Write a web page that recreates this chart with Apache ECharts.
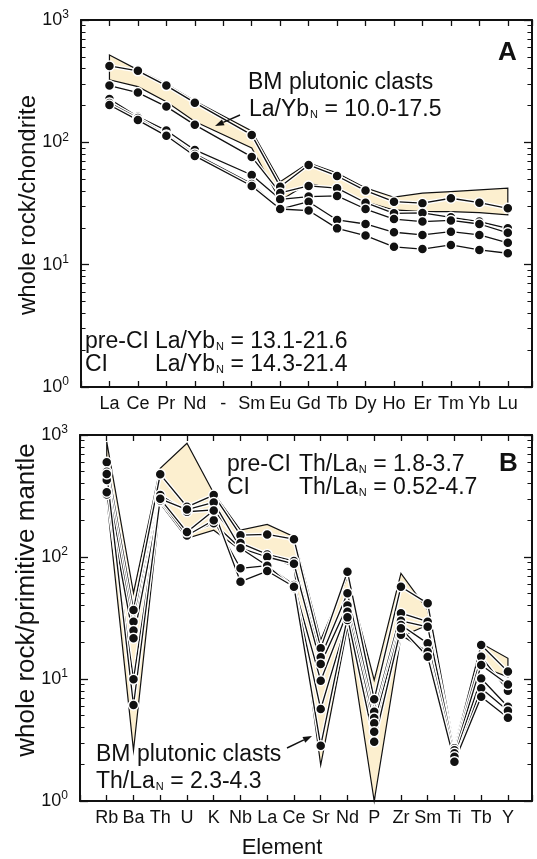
<!DOCTYPE html>
<html>
<head>
<meta charset="utf-8">
<script src="https://cdn.jsdelivr.net/npm/echarts@6/dist/echarts.min.js"></script>
<style>
  html, body { margin: 0; padding: 0; background: #fff; }
  #chart { width: 537px; height: 859px; }
</style>
</head>
<body>
<div id="chart"></div>
<script>
// ---- panel A: REE, normalised to chondrite ----
const catsA = ["La", "Ce", "Pr", "Nd", "-", "Sm", "Eu", "Gd", "Tb", "Dy", "Ho", "Er", "Tm", "Yb", "Lu"];
const elemsA = ["La", "Ce", "Pr", "Nd", "Sm", "Eu", "Gd", "Tb", "Dy", "Ho", "Er", "Tm", "Yb", "Lu"];
const bandHiA = [518, 391, 300, 218, 124, 47.7, 67.9, 56.2, 42.4, 35.6, 38.4, 39.5, 40.8, 42.2];
const bandLoA = [324, 285, 215, 148, 90, 33.5, 46.3, 40.8, 32.7, 28.0, 27.1, 27.1, 26.6, 25.5];
const rockA1 = [421, 384, 291, 211, 115, 43.4, 65.3, 53.1, 40.3, 32.7, 31.8, 34.9, 32.1, 28.9];
const rockA2 = [291, 255, 196, 139, 76, 38.6, 44.0, 42.2, 32.1, 26.3, 26.5, 24.4, 22.5, 19.8];
const rockA3 = [226, 162, 125, 86.7, 54.1, 34.2, 36.0, 36.5, 28.5, 23.6, 22.5, 23.0, 21.5, 18.2];
const rockA4 = [210, 158, 115, 80.4, 45.7, 28.5, 32.7, 23.2, 21.5, 18.4, 17.5, 18.6, 17.5, 15.1];
const rockA5 = [202, 152, 113, 77.4, 44.0, 28.5, 27.7, 19.8, 17.3, 14.0, 13.4, 14.5, 13.2, 12.4];

// ---- panel B: spider diagram, normalised to primitive mantle ----
const catsB = ["Rb", "Ba", "Th", "U", "K", "Nb", "La", "Ce", "Sr", "Nd", "P", "Zr", "Sm", "Ti", "Tb", "Y"];
const bandHiB = [877, 50.7, 533, 855, 333, 166, 185, 147, 20.9, 69, 9.8, 73.5, 36.8, 2.88, 19.6, 14.8];
const bandLoB = [305, 2.6, 275, 142, 166, 114, 104, 83.2, 1.97, 26.8, 1.0, 22.2, 27.7, 2.17, 12.6, 10.4];
const rockB1 = [597, 36.8, 476, 258, 322, 151, 153, 140, 17.9, 75.8, 6.82, 57.1, 41.7, 2.70, 19.0, 11.5];
const rockB2 = [500, 29.5, 322, 235, 243, 130, 105, 92.7, 15.1, 50.4, 5.40, 34.6, 29.5, 2.60, 15.2, 8.02];
const rockB3 = [428, 25.0, 300, 245, 280, 118, 100, 88, 13.3, 40.0, 4.80, 30.0, 26.8, 2.46, 13.0, 9.0];
const rockB4 = [326, 21.6, 288, 156, 189, 118, 84.9, 58.9, 9.69, 35.6, 4.33, 27.7, 19.6, 2.30, 10.1, 5.93];
const rockB5 = [340, 9.95, 290, 150, 200, 80.8, 84.9, 55.7, 5.68, 30.5, 3.70, 23.0, 16.7, 2.06, 8.39, 5.5];
const rockB6 = [480, 6.12, 300, 160, 240, 62.8, 76.7, 57.0, 2.84, 32.0, 3.06, 26.0, 15.2, 2.10, 7.16, 4.82];

const FONT = '"Liberation Sans", Arial, Helvetica, sans-serif';
const INK = "#111";
const FILL = "#fcefcf";
const maxA = 14.85;
const maxB = 15.9;

const xsA = elemsA.map((e) => catsA.indexOf(e));
const xsB = catsB.map((e, i) => i);

function rockSeries(xs, vals, xi, yi) {
  const data = vals.map((v, i) => [xs[i], v]);
  return [
    { type: "line", xAxisIndex: xi, yAxisIndex: yi, data, symbol: "none", silent: true, z: 3,
      lineStyle: { color: "#fff", width: 4 } },
    { type: "line", xAxisIndex: xi, yAxisIndex: yi, data, symbol: "circle", symbolSize: 10, z: 3,
      itemStyle: { color: INK, borderColor: "#fff", borderWidth: 1.5 },
      lineStyle: { color: INK, width: 1.3 } },
  ];
}

function bandSeries(xs, hi, lo, xi, yi) {
  return {
    type: "custom", xAxisIndex: xi, yAxisIndex: yi, silent: true, z: 2,
    data: [[xs[0], hi[0]]],
    renderItem: (params, api) => {
      const top = xs.map((x, i) => api.coord([x, hi[i]]));
      const bot = xs.map((x, i) => api.coord([x, lo[i]])).reverse();
      return { type: "polygon", shape: { points: top.concat(bot) },
        style: { fill: FILL, stroke: INK, lineWidth: 1.2 } };
    },
  };
}

// minor log ticks 2..9 on both sides of a panel
function minorTicks(xi, yi, xmin, xmax, len) {
  const segs = [];
  [1, 10, 100].forEach((d) => {
    for (let k = 2; k <= 9; k++) {
      segs.push([{ coord: [xmin, d * k] }, { coord: [xmin + len, d * k] }]);
      segs.push([{ coord: [xmax - len, d * k] }, { coord: [xmax, d * k] }]);
    }
  });
  return {
    type: "line", xAxisIndex: xi, yAxisIndex: yi, data: [], z: 4,
    markLine: { silent: true, symbol: "none", animation: false, label: { show: false },
      lineStyle: { color: INK, width: 1, type: "solid" }, data: segs },
  };
}

function xAx(grid, cats, max, pos) {
  return {
    type: "value", gridIndex: grid, position: pos, min: -1, max: max, interval: 1,
    axisLine: { show: true, onZero: false, lineStyle: { color: INK, width: 2 } },
    axisTick: { show: true, inside: true, length: 6, lineStyle: { color: INK, width: 1.3 } },
    splitLine: { show: false },
    axisLabel: {
      show: pos === "bottom", margin: 8, color: INK, fontSize: 18, fontFamily: FONT,
      formatter: (v) => {
        const i = Math.round(v);
        return Math.abs(v - i) < 1e-6 && cats[i] !== undefined ? cats[i] : "";
      },
    },
  };
}

function yAx(grid, pos) {
  return {
    type: "log", logBase: 10, gridIndex: grid, position: pos, min: 1, max: 1000,
    axisLine: { show: true, onZero: false, lineStyle: { color: INK, width: 2 } },
    axisTick: { show: true, inside: true, length: 8, lineStyle: { color: INK, width: 1.3 } },
    splitLine: { show: false },
    axisLabel: {
      show: pos === "left", margin: 12, color: INK, fontFamily: FONT,
      formatter: (v) => "{b|10}{s|" + Math.round(Math.log10(v)) + "}",
      rich: {
        b: { fontSize: 18, lineHeight: 18, fontFamily: FONT, color: INK },
        s: { fontSize: 12, lineHeight: 12, padding: [0, 0, 10, 0], fontFamily: FONT, color: INK },
      },
    },
  };
}

function label(text, x, y, size, extra) {
  return {
    type: "text", x, y, silent: true, z: 10,
    style: Object.assign({
      text, fill: INK, fontSize: size, fontFamily: FONT, verticalAlign: "middle", align: "left",
      rich: {
        t: { fontSize: size, lineHeight: size + 2, fontFamily: FONT, fill: INK },
        sub: { fontSize: 11, lineHeight: 11, padding: [10, 0, 0, 1], fontFamily: FONT, fill: INK },
      },
    }, extra || {}),
  };
}

function arrow(x1, y1, x2, y2) {
  const dx = x2 - x1, dy = y2 - y1, L = Math.hypot(dx, dy);
  const ux = dx / L, uy = dy / L, hl = 9, hw = 3.2;
  const bx = x2 - ux * hl, by = y2 - uy * hl;
  return [
    { type: "line", silent: true, z: 10, shape: { x1, y1, x2: bx, y2: by }, style: { stroke: INK, lineWidth: 1.4 } },
    { type: "polygon", silent: true, z: 10,
      shape: { points: [[x2, y2], [bx - uy * hw, by + ux * hw], [bx + uy * hw, by - ux * hw]] },
      style: { fill: INK } },
  ];
}

const series = [
  bandSeries(xsA, bandHiA, bandLoA, 0, 0),
  ...[rockA1, rockA2, rockA3, rockA4, rockA5].flatMap((r) => rockSeries(xsA, r, 0, 0)),
  minorTicks(0, 0, -1, maxA, 0.16),
  bandSeries(xsB, bandHiB, bandLoB, 2, 2),
  ...[rockB1, rockB2, rockB3, rockB4, rockB5, rockB6].flatMap((r) => rockSeries(xsB, r, 2, 2)),
  minorTicks(2, 2, -1, maxB, 0.17),
];

const TS = 23;
const graphic = [
  label("A", 498, 53, 26, { fontWeight: "bold" }),
  label("B", 499, 464, 26, { fontWeight: "bold" }),
  label("{t|BM plutonic clasts}", 248, 83, TS),
  label("{t|La/Yb}{sub|N}{t| = 10.0-17.5}", 249, 110, TS),
  label("{t|pre-CI}", 85, 342, TS),
  label("{t|La/Yb}{sub|N}{t| = 13.1-21.6}", 155, 342, TS),
  label("{t|CI}", 85, 365, TS),
  label("{t|La/Yb}{sub|N}{t| = 14.3-21.4}", 155, 365, TS),
  label("{t|pre-CI}", 227, 465, TS),
  label("{t|Th/La}{sub|N}{t| = 1.8-3.7}", 299, 465, TS),
  label("{t|CI}", 227, 488, TS),
  label("{t|Th/La}{sub|N}{t| = 0.52-4.7}", 299, 488, TS),
  label("{t|BM plutonic clasts}", 96, 755, TS),
  label("{t|Th/La}{sub|N}{t| = 2.3-4.3}", 96, 782, TS),
  ...arrow(240, 115, 215, 126),
  ...arrow(287, 748, 312, 736),
  label("Element", 282, 848, 22, { align: "center" }),
  { type: "text", x: 28, y: 205, rotation: Math.PI / 2, silent: true,
    style: { text: "whole rock/chondrite", fill: INK, fontSize: 24, fontFamily: FONT, align: "center", verticalAlign: "middle" } },
  { type: "text", x: 27, y: 600, rotation: Math.PI / 2, silent: true,
    style: { text: "whole rock/primitive mantle", fill: INK, fontSize: 26, fontFamily: FONT, align: "center", verticalAlign: "middle" } },
];

const chart = echarts.init(document.getElementById("chart"), null, { renderer: "canvas" });
chart.setOption({
  animation: false,
  backgroundColor: "#fff",
  textStyle: { fontFamily: FONT },
  grid: [
    { left: 81, top: 20, width: 451, height: 367 },
    { left: 80, top: 435, width: 452, height: 366 },
  ],
  xAxis: [
    xAx(0, catsA, maxA, "bottom"),
    xAx(0, catsA, maxA, "top"),
    xAx(1, catsB, maxB, "bottom"),
    xAx(1, catsB, maxB, "top"),
  ],
  yAxis: [yAx(0, "left"), yAx(0, "right"), yAx(1, "left"), yAx(1, "right")],
  series,
  graphic,
});
</script>
</body>
</html>
